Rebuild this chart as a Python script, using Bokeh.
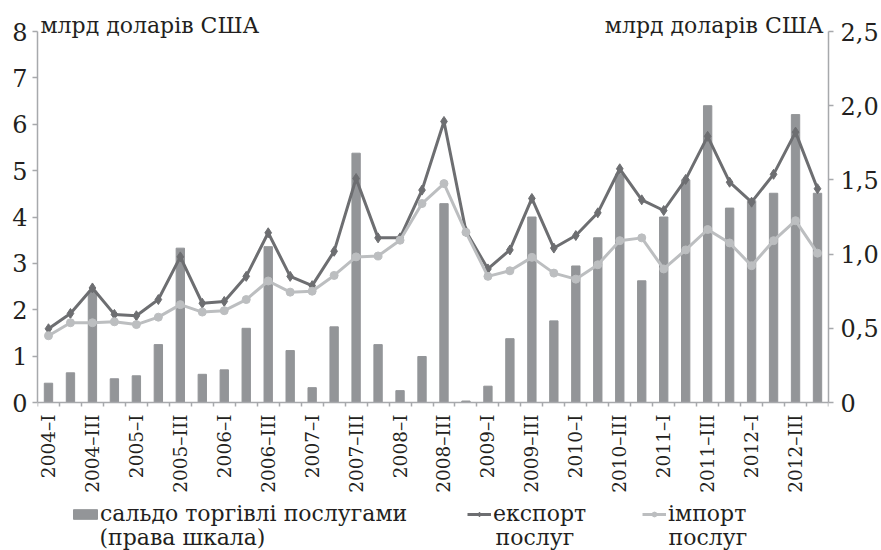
import math
from bokeh.plotting import figure
from bokeh.models import (Range1d, LinearAxis, FixedTicker, Legend, LegendItem, Label)
from bokeh.embed import file_html
from bokeh.resources import INLINE

years = [2004, 2005, 2006, 2007, 2008, 2009, 2010, 2011, 2012]
quarters = ["I", "II", "III", "IV"]
categories = [f"{y}\u2013{q}" for y in years for q in quarters]
shown_quarters = ["I", "III"]

export = [1.59, 1.92, 2.47, 1.90, 1.87, 2.22, 3.14, 2.14, 2.18, 2.72, 3.66, 2.72,
          2.52, 3.26, 4.83, 3.55, 3.55, 4.58, 6.06, 3.69, 2.88, 3.29, 4.40, 3.33,
          3.60, 4.09, 5.04, 4.37, 4.14, 4.81, 5.74, 4.75, 4.32, 4.92, 5.83, 4.61]
imports = [1.44, 1.72, 1.72, 1.74, 1.68, 1.84, 2.11, 1.95, 1.98, 2.22, 2.62, 2.38,
           2.40, 2.74, 3.14, 3.16, 3.50, 4.29, 4.72, 3.67, 2.72, 2.84, 3.13, 2.79,
           2.66, 2.97, 3.49, 3.55, 2.88, 3.29, 3.73, 3.44, 2.95, 3.49, 3.92, 3.22]
balance = [0.13, 0.20, 0.75, 0.16, 0.18, 0.39, 1.04, 0.19, 0.22, 0.50, 1.05, 0.35,
           0.10, 0.51, 1.68, 0.39, 0.08, 0.31, 1.34, 0.01, 0.11, 0.43, 1.25, 0.55,
           0.92, 1.11, 1.54, 0.82, 1.25, 1.50, 2.00, 1.31, 1.36, 1.41, 1.94, 1.41]

left_ticks = [0, 1, 2, 3, 4, 5, 6, 7, 8]
right_ticks = [0, 0.5, 1.0, 1.5, 2.0, 2.5]
right_tick_labels = ["0", "0,5", "1,0", "1,5", "2,0", "2,5"]

unit_text = "млрд доларів США"
legend_bar = ["сальдо торгівлі послугами", "(права шкала)"]
legend_exp = ["експорт", "послуг"]
legend_imp = ["імпорт", "послуг"]

BAR = "#939598"
EXP = "#6d6e71"
IMP = "#bcbec0"
AXIS = "#a7a9ac"
TXT = "#231f20"
FONT = "DejaVu Serif"

n = len(categories)
xs = [i + 0.5 for i in range(n)]

# frame covers the whole height so that texts below/above the axes are not clipped;
# the plotted region (0..8 / 0..2.5) keeps the reference pixel scale
W, H = 881, 550
LEFT, RIGHT = 37, 53
TOP, ZERO = 3, 402            # frame top and y=0 pixel row
PX_L = (402 - 31) / 8.0       # pixels per left unit
PX_R = (402 - 31) / 2.5       # pixels per right unit
y_left = Range1d(-(H - ZERO) / PX_L, (ZERO - TOP) / PX_L)
y_right = Range1d(-(H - ZERO) / PX_R, (ZERO - TOP) / PX_R)
FRAME_W = W - LEFT - RIGHT

p = figure(width=W, height=H, output_backend="svg", toolbar_location=None,
           x_range=Range1d(0, n), y_range=y_left,
           min_border_left=LEFT, min_border_right=RIGHT, min_border_top=TOP,
           min_border_bottom=0, x_axis_type=None, y_axis_type=None)
p.outline_line_color = None
p.grid.visible = False
p.extra_y_ranges = {"right": y_right}

bars = p.vbar(x=xs, top=balance, bottom=0, width=0.38, color=BAR, y_range_name="right")
exp_line = p.line(xs, export, line_color=EXP, line_width=3)
exp_pts = p.scatter(xs, export, marker="diamond", size=10, color=EXP)
imp_line = p.line(xs, imports, line_color=IMP, line_width=3)
imp_pts = p.scatter(xs, imports, marker="circle", size=8, color=IMP)

# x axis at y = 0
xt = [xs[i] for i, c in enumerate(categories) if c.split("\u2013")[1] in shown_quarters]
xaxis = LinearAxis(ticker=FixedTicker(ticks=xt, minor_ticks=list(range(n + 1))),
                   major_label_overrides={xs[i]: c for i, c in enumerate(categories)},
                   major_label_orientation=math.pi / 2, fixed_location=0)
xaxis.axis_line_color = AXIS
xaxis.axis_line_width = 1.5
xaxis.major_tick_line_color = None
xaxis.major_tick_out = 0
xaxis.major_tick_in = 0
xaxis.minor_tick_line_color = AXIS
xaxis.minor_tick_line_width = 1.5
xaxis.minor_tick_out = 4
xaxis.minor_tick_in = 0
xaxis.major_label_standoff = 8
xaxis.major_label_text_font = FONT
xaxis.major_label_text_font_size = "18.5px"
xaxis.major_label_text_color = TXT
p.add_layout(xaxis, "below")

yl = LinearAxis(ticker=FixedTicker(ticks=left_ticks, minor_ticks=[]), bounds=(0, 8))
yr = LinearAxis(y_range_name="right", ticker=FixedTicker(ticks=right_ticks, minor_ticks=[]),
                major_label_overrides=dict(zip(right_ticks, right_tick_labels)), bounds=(0, 2.5))
for ax in (yl, yr):
    ax.axis_line_color = AXIS
    ax.axis_line_width = 1.5
    ax.major_tick_line_color = AXIS
    ax.major_tick_line_width = 1.5
    ax.major_tick_out = 5
    ax.major_tick_in = 0
    ax.major_label_text_font = FONT
    ax.major_label_text_font_size = "24px"
    ax.major_label_text_color = TXT
yl.major_label_standoff = 5
yr.major_label_standoff = 7
p.add_layout(yl, "left")
p.add_layout(yr, "right")

# unit titles (screen units from the frame's bottom-left corner)
title_y = H - 25
p.add_layout(Label(x=3, y=title_y, x_units="screen", y_units="screen", text=unit_text,
                   text_font=FONT, text_font_size="22px", text_color=TXT,
                   text_baseline="middle"))
p.add_layout(Label(x=FRAME_W - 5, y=title_y, x_units="screen", y_units="screen",
                   text=unit_text, text_font=FONT, text_font_size="22px", text_color=TXT,
                   text_align="right", text_baseline="middle"))

def make_legend(label, renderers, x, gw, gh, standoff):
    lg = Legend(items=[LegendItem(label=label, renderers=renderers)], location=(x, 24),
                orientation="horizontal", padding=0, margin=0, spacing=0,
                border_line_color=None, background_fill_alpha=0,
                glyph_width=gw, glyph_height=gh, label_standoff=standoff,
                label_text_font=FONT, label_text_font_size="22px",
                label_text_color=TXT, label_height=20)
    p.add_layout(lg, "center")

make_legend(legend_bar[0], [bars], 33, 30, 12, 0)
make_legend(legend_exp[0], [exp_line, exp_pts], 430, 24, 12, 2)
make_legend(legend_imp[0], [imp_line, imp_pts], 605, 24, 12, 2)

for txt, x in ((legend_bar[1], 62), (legend_exp[1], 458), (legend_imp[1], 631)):
    p.add_layout(Label(x=x, y=13, x_units="screen", y_units="screen", text=txt,
                       text_font=FONT, text_font_size="22px", text_color=TXT,
                       text_baseline="middle"))

open("out.html", "w").write(file_html(p, INLINE))
